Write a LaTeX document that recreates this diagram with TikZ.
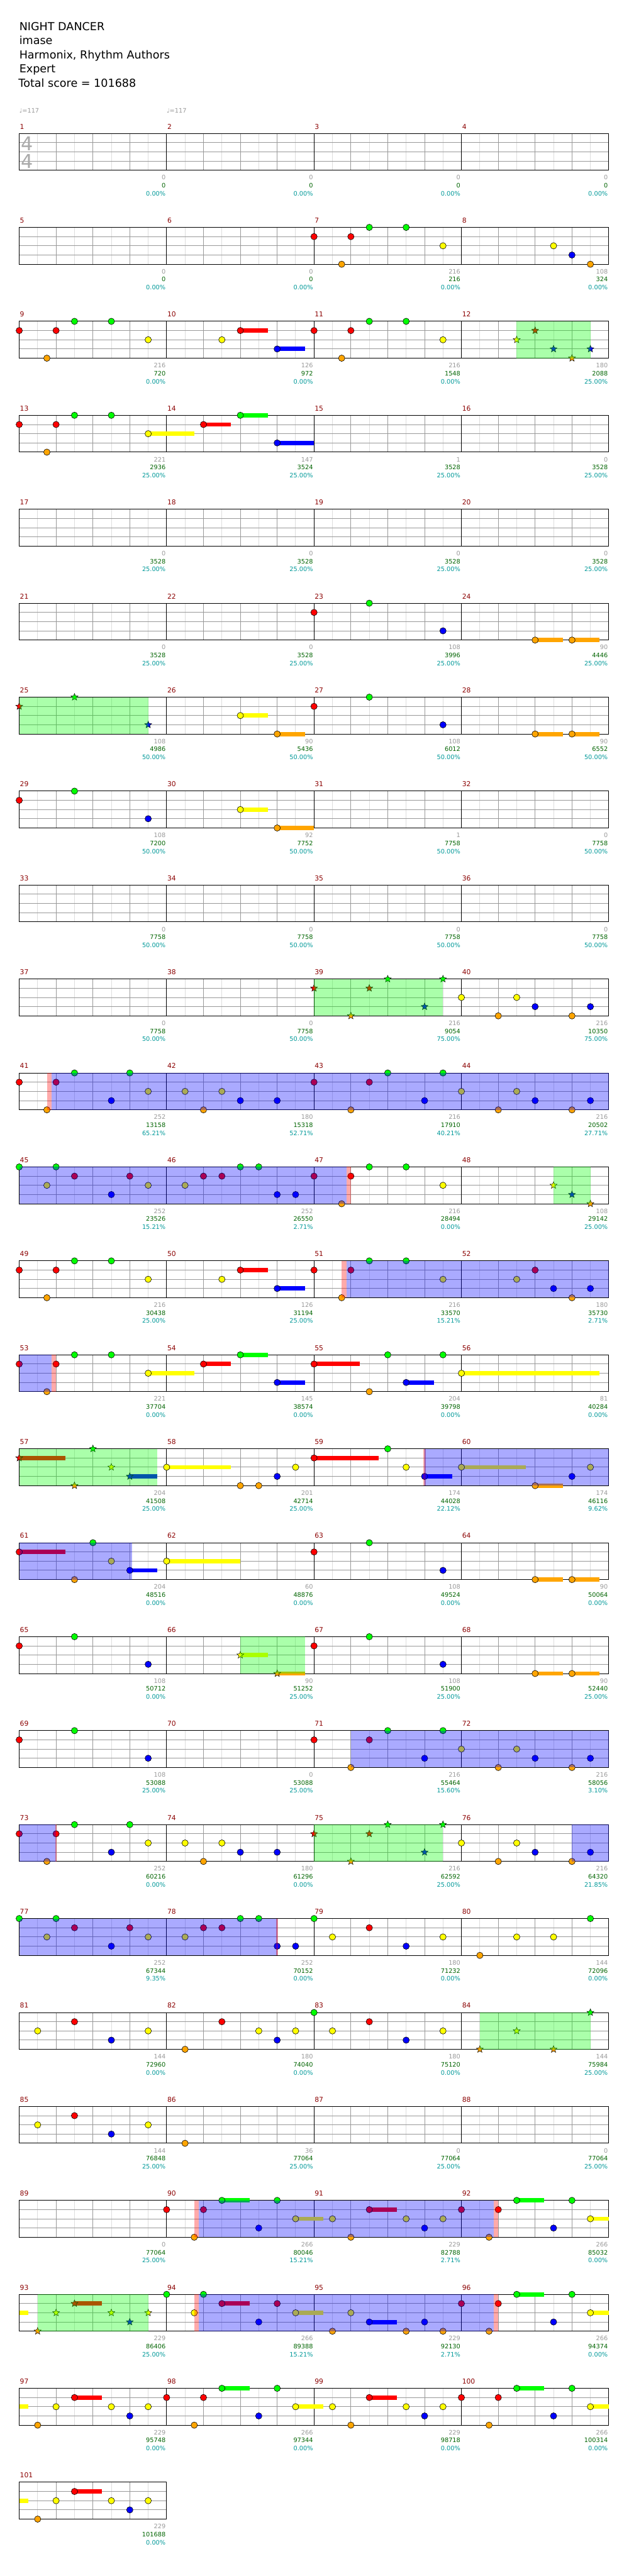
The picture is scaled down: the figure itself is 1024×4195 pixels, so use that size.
\documentclass[tikz,border=0pt]{standalone}
\usepackage{fontspec}
\setmainfont{DejaVu Sans}
\usetikzlibrary{shapes.geometric}
\definecolor{cG}{RGB}{0,255,0}
\definecolor{cR}{RGB}{255,0,0}
\definecolor{cY}{RGB}{255,255,0}
\definecolor{cB}{RGB}{0,0,255}
\definecolor{cO}{RGB}{255,165,0}
\definecolor{cMn}{RGB}{139,0,0}
\definecolor{cGr}{RGB}{153,153,153}
\definecolor{cDg}{RGB}{0,100,0}
\definecolor{cTl}{RGB}{0,153,153}
\definecolor{cHalf}{RGB}{221,221,221}
\definecolor{cBeat}{RGB}{153,153,153}
\definecolor{cTs}{RGB}{170,170,170}
\newcounter{stc}
\newcommand\XY[3]{\pgfmathsetmacro\xx{31.3+mod(#1-1,4)*240+#2*60}\pgfmathsetmacro\yy{217.3+floor((#1-1)/4)*153+#3*15}}
\newcommand\note[4]{\XY{#1}{#2}{#3}\filldraw[fill=#4,draw=black,line width=0.6pt] (\xx,\yy) circle (5.2pt);}
\newcommand\nG[2]{\note{#1}{#2}{0}{cG}}
\newcommand\nR[2]{\note{#1}{#2}{1}{cR}}
\newcommand\nY[2]{\note{#1}{#2}{2}{cY}}
\newcommand\nB[2]{\note{#1}{#2}{3}{cB}}
\newcommand\nO[2]{\note{#1}{#2}{4}{cO}}
\newcommand\starat[4]{\XY{#1}{#2}{#3}\stepcounter{stc}\node[starn,fill=#4] (st\arabic{stc}) at (\xx,\yy) {};}
\newcommand\xG[2]{\starat{#1}{#2}{0}{cG}}
\newcommand\xR[2]{\starat{#1}{#2}{1}{cR}}
\newcommand\xY[2]{\starat{#1}{#2}{2}{cY}}
\newcommand\xB[2]{\starat{#1}{#2}{3}{cB}}
\newcommand\xO[2]{\starat{#1}{#2}{4}{cO}}
\newcommand\sus[5]{\XY{#1}{#2}{#3}\pgfmathsetmacro\ww{#4*60}\fill[#5] (\xx,\yy-3.5) rectangle ++(\ww,7);}
\newcommand\uG[3]{\sus{#1}{#2}{0}{#3}{cG}}
\newcommand\uR[3]{\sus{#1}{#2}{1}{#3}{cR}}
\newcommand\uY[3]{\sus{#1}{#2}{2}{#3}{cY}}
\newcommand\uB[3]{\sus{#1}{#2}{3}{#3}{cB}}
\newcommand\uO[3]{\sus{#1}{#2}{4}{#3}{cO}}
\newcommand\ovr[4]{\XY{#1}{#2}{0}\pgfmathsetmacro\ww{(#3-#2)*60}\fill[#4,opacity=0.3333] (\xx,\yy) rectangle ++(\ww,60);}
\newcommand\ovB[3]{\ovr{#1}{#2}{#3}{cB}}
\newcommand\ovG[3]{\ovr{#1}{#2}{#3}{cG}}
\newcommand\ovP[3]{\ovr{#1}{#2}{#3}{cR}}
\newcommand\grid[2]{%
 \pgfmathsetmacro\yt{217.3+#1*153}%
 \pgfmathtruncatemacro\nh{#2*8-1}%
 \pgfmathsetmacro\xr{31.3+#2*240}%
 \fill[white] (31.3,\yt) rectangle (\xr,\yt+60);
 \foreach \k in {1,3,...,\nh} {\draw[halfl] (31.3+\k*30,\yt) -- ++(0,60);}
 \foreach \k in {2,4,...,\nh} {\draw[beatl] (31.3+\k*30,\yt) -- ++(0,60);}
 \foreach \j in {1,2,3} {\draw[beatl] (31.3,\yt+\j*15) -- (\xr,\yt+\j*15);}
 \foreach \k in {1,...,#2} {\draw[measl] (31.3+\k*240,\yt) -- ++(0,60);}
 \draw[measl] (31.3,\yt) rectangle (\xr,\yt+60);}
\newcommand\lab[4]{%
 \pgfmathsetmacro\xl{31.3+mod(#1-1,4)*240}%
 \pgfmathsetmacro\yt{217.3+floor((#1-1)/4)*153}%
 \node[mnum] (mn#1) at (\xl+1,\yt-7.3) {#1};
 \node[ngray] (ga#1) at (\xl+238.5,\yt+75.5) {#2};
 \node[ngreen] (gb#1) at (\xl+238.5,\yt+88.5) {#3};
 \node[npct] (gc#1) at (\xl+238.5,\yt+101.5) {#4\%};}
\begin{document}
\begin{tikzpicture}[x=1pt,y=-1pt,
 mnum/.style={anchor=base west,inner sep=0pt,text=cMn,font=\fontsize{11}{11}\selectfont},
 ngray/.style={anchor=base east,inner sep=0pt,text=cGr,font=\fontsize{10}{10}\selectfont},
 ngreen/.style={anchor=base east,inner sep=0pt,text=cDg,font=\fontsize{10}{10}\selectfont},
 npct/.style={anchor=base east,inner sep=0pt,text=cTl,font=\fontsize{10}{10}\selectfont},
 head/.style={anchor=base west,inner sep=0pt,text=black,font=\fontsize{18}{18}\selectfont},
 tempo/.style={anchor=base west,inner sep=0pt,text=cGr,font=\fontsize{10}{10}\selectfont},
 tsig/.style={inner sep=0pt,text=cTs,font=\fontsize{31}{31}\selectfont},
 halfl/.style={draw=cHalf,line width=1pt},
 beatl/.style={draw=cBeat,line width=1pt},
 measl/.style={draw=black,line width=1pt},
 starn/.style={star,star points=5,star point ratio=2.3,minimum size=12pt,inner sep=0pt,draw=black,line width=0.5pt}]
\useasboundingbox (0,0) rectangle (1024,4195);
\fill[white] (0,0) rectangle (1024,4195);
% header
\node[head] (h1) at (31.3,49.3) {NIGHT DANCER};
\node[head] (h2) at (31.3,72) {imase};
\node[head] (h3) at (31.3,95.5) {Harmonix, Rhythm Authors};
\node[head] (h4) at (31.3,118.5) {Expert};
\node[head] (h5) at (30,141.5) {Total score = 101688};
\node[tempo] (tp1) at (31.3,184) {♩=117};
\node[tempo] (tp2) at (271.3,184) {♩=117};
% grids
\foreach \r in {0,...,24} {\grid{\r}{4}}
\grid{25}{1}
\node[tsig] (ts1) at (44.3,233.5) {4};
\node[tsig] (ts2) at (44.3,263) {4};
% labels
\lab{1}{0}{0}{0.00}\lab{2}{0}{0}{0.00}\lab{3}{0}{0}{0.00}\lab{4}{0}{0}{0.00}
\lab{5}{0}{0}{0.00}\lab{6}{0}{0}{0.00}\lab{7}{216}{216}{0.00}\lab{8}{108}{324}{0.00}
\lab{9}{216}{720}{0.00}\lab{10}{126}{972}{0.00}\lab{11}{216}{1548}{0.00}\lab{12}{180}{2088}{25.00}
\lab{13}{221}{2936}{25.00}\lab{14}{147}{3524}{25.00}\lab{15}{1}{3528}{25.00}\lab{16}{0}{3528}{25.00}
\lab{17}{0}{3528}{25.00}\lab{18}{0}{3528}{25.00}\lab{19}{0}{3528}{25.00}\lab{20}{0}{3528}{25.00}
\lab{21}{0}{3528}{25.00}\lab{22}{0}{3528}{25.00}\lab{23}{108}{3996}{25.00}\lab{24}{90}{4446}{25.00}
\lab{25}{108}{4986}{50.00}\lab{26}{90}{5436}{50.00}\lab{27}{108}{6012}{50.00}\lab{28}{90}{6552}{50.00}
\lab{29}{108}{7200}{50.00}\lab{30}{92}{7752}{50.00}\lab{31}{1}{7758}{50.00}\lab{32}{0}{7758}{50.00}
\lab{33}{0}{7758}{50.00}\lab{34}{0}{7758}{50.00}\lab{35}{0}{7758}{50.00}\lab{36}{0}{7758}{50.00}
\lab{37}{0}{7758}{50.00}\lab{38}{0}{7758}{50.00}\lab{39}{216}{9054}{75.00}\lab{40}{216}{10350}{75.00}
\lab{41}{252}{13158}{65.21}\lab{42}{180}{15318}{52.71}\lab{43}{216}{17910}{40.21}\lab{44}{216}{20502}{27.71}
\lab{45}{252}{23526}{15.21}\lab{46}{252}{26550}{2.71}\lab{47}{216}{28494}{0.00}\lab{48}{108}{29142}{25.00}
\lab{49}{216}{30438}{25.00}\lab{50}{126}{31194}{25.00}\lab{51}{216}{33570}{15.21}\lab{52}{180}{35730}{2.71}
\lab{53}{221}{37704}{0.00}\lab{54}{145}{38574}{0.00}\lab{55}{204}{39798}{0.00}\lab{56}{81}{40284}{0.00}
\lab{57}{204}{41508}{25.00}\lab{58}{201}{42714}{25.00}\lab{59}{174}{44028}{22.12}\lab{60}{174}{46116}{9.62}
\lab{61}{204}{48516}{0.00}\lab{62}{60}{48876}{0.00}\lab{63}{108}{49524}{0.00}\lab{64}{90}{50064}{0.00}
\lab{65}{108}{50712}{0.00}\lab{66}{90}{51252}{25.00}\lab{67}{108}{51900}{25.00}\lab{68}{90}{52440}{25.00}
\lab{69}{108}{53088}{25.00}\lab{70}{0}{53088}{25.00}\lab{71}{216}{55464}{15.60}\lab{72}{216}{58056}{3.10}
\lab{73}{252}{60216}{0.00}\lab{74}{180}{61296}{0.00}\lab{75}{216}{62592}{25.00}\lab{76}{216}{64320}{21.85}
\lab{77}{252}{67344}{9.35}\lab{78}{252}{70152}{0.00}\lab{79}{180}{71232}{0.00}\lab{80}{144}{72096}{0.00}
\lab{81}{144}{72960}{0.00}\lab{82}{180}{74040}{0.00}\lab{83}{180}{75120}{0.00}\lab{84}{144}{75984}{25.00}
\lab{85}{144}{76848}{25.00}\lab{86}{36}{77064}{25.00}\lab{87}{0}{77064}{25.00}\lab{88}{0}{77064}{25.00}
\lab{89}{0}{77064}{25.00}\lab{90}{266}{80046}{15.21}\lab{91}{229}{82788}{2.71}\lab{92}{266}{85032}{0.00}
\lab{93}{229}{86406}{25.00}\lab{94}{266}{89388}{15.21}\lab{95}{229}{92130}{2.71}\lab{96}{266}{94374}{0.00}
\lab{97}{229}{95748}{0.00}\lab{98}{266}{97344}{0.00}\lab{99}{229}{98718}{0.00}\lab{100}{266}{100314}{0.00}
\lab{101}{229}{101688}{0.00}
% notes
\nR{7}{0}\nO{7}{0.75}\nR{7}{1}\nG{7}{1.5}\nG{7}{2.5}\nY{7}{3.5}
\nY{8}{2.5}\nB{8}{3}\nO{8}{3.5}
\nR{9}{0}\nO{9}{0.75}\nR{9}{1}\nG{9}{1.5}\nG{9}{2.5}\nY{9}{3.5}
\uR{10}{2}{0.75}\uB{10}{3}{0.75}\nY{10}{1.5}\nR{10}{2}\nB{10}{3}
\nR{11}{0}\nO{11}{0.75}\nR{11}{1}\nG{11}{1.5}\nG{11}{2.5}\nY{11}{3.5}
\xY{12}{1.5}\xR{12}{2}\xB{12}{2.5}\xO{12}{3}\xB{12}{3.5}
\uY{13}{3.5}{1.25}\nR{13}{0}\nO{13}{0.75}\nR{13}{1}\nG{13}{1.5}\nG{13}{2.5}\nY{13}{3.5}
\uR{14}{1}{0.75}\uG{14}{2}{0.75}\uB{14}{3}{1}\nR{14}{1}\nG{14}{2}\nB{14}{3}
\nR{23}{0}\nG{23}{1.5}\nB{23}{3.5}
\uO{24}{2}{0.75}\uO{24}{3}{0.75}\nO{24}{2}\nO{24}{3}
\xR{25}{0}\xG{25}{1.5}\xB{25}{3.5}
\uY{26}{2}{0.75}\uO{26}{3}{0.75}\nY{26}{2}\nO{26}{3}
\nR{27}{0}\nG{27}{1.5}\nB{27}{3.5}
\uO{28}{2}{0.75}\uO{28}{3}{0.75}\nO{28}{2}\nO{28}{3}
\nR{29}{0}\nG{29}{1.5}\nB{29}{3.5}
\uY{30}{2}{0.75}\uO{30}{3}{1}\nY{30}{2}\nO{30}{3}
\xR{39}{0}\xO{39}{1}\xR{39}{1.5}\xG{39}{2}\xB{39}{3}\xG{39}{3.5}
\nY{40}{0}\nO{40}{1}\nY{40}{1.5}\nB{40}{2}\nO{40}{3}\nB{40}{3.5}
\nR{41}{0}\nO{41}{0.75}\nR{41}{1}\nG{41}{1.5}\nB{41}{2.5}\nG{41}{3}\nY{41}{3.5}
\nY{42}{0.5}\nO{42}{1}\nY{42}{1.5}\nB{42}{2}\nB{42}{3}
\nR{43}{0}\nO{43}{1}\nR{43}{1.5}\nG{43}{2}\nB{43}{3}\nG{43}{3.5}
\nY{44}{0}\nO{44}{1}\nY{44}{1.5}\nB{44}{2}\nO{44}{3}\nB{44}{3.5}
\nG{45}{0}\nY{45}{0.75}\nG{45}{1}\nR{45}{1.5}\nB{45}{2.5}\nR{45}{3}\nY{45}{3.5}
\nY{46}{0.5}\nR{46}{1}\nR{46}{1.5}\nG{46}{2}\nG{46}{2.5}\nB{46}{3}\nB{46}{3.5}
\nR{47}{0}\nO{47}{0.75}\nR{47}{1}\nG{47}{1.5}\nG{47}{2.5}\nY{47}{3.5}
\xY{48}{2.5}\xB{48}{3}\xO{48}{3.5}
\nR{49}{0}\nO{49}{0.75}\nR{49}{1}\nG{49}{1.5}\nG{49}{2.5}\nY{49}{3.5}
\uR{50}{2}{0.75}\uB{50}{3}{0.75}\nY{50}{1.5}\nR{50}{2}\nB{50}{3}
\nR{51}{0}\nO{51}{0.75}\nR{51}{1}\nG{51}{1.5}\nG{51}{2.5}\nY{51}{3.5}
\nY{52}{1.5}\nR{52}{2}\nB{52}{2.5}\nO{52}{3}\nB{52}{3.5}
\uY{53}{3.5}{1.25}\nR{53}{0}\nO{53}{0.75}\nR{53}{1}\nG{53}{1.5}\nG{53}{2.5}\nY{53}{3.5}
\uR{54}{1}{0.75}\uG{54}{2}{0.75}\uB{54}{3}{0.75}\nR{54}{1}\nG{54}{2}\nB{54}{3}
\uR{55}{0}{1.25}\uB{55}{2.5}{0.75}\nR{55}{0}\nO{55}{1.5}\nG{55}{2}\nB{55}{2.5}\nG{55}{3.5}
\uY{56}{0}{3.75}\nY{56}{0}
\uR{57}{0}{1.25}\uB{57}{3}{0.75}\xR{57}{0}\xO{57}{1.5}\xG{57}{2}\xY{57}{2.5}\xB{57}{3}
\uY{58}{0}{1.75}\nY{58}{0}\nO{58}{2}\nO{58}{2.5}\nB{58}{3}\nY{58}{3.5}
\uR{59}{0}{1.75}\uB{59}{3}{0.75}\nR{59}{0}\nG{59}{2}\nY{59}{2.5}\nB{59}{3}
\uY{60}{0}{1.75}\uO{60}{2}{0.75}\nY{60}{0}\nO{60}{2}\nB{60}{3}\nY{60}{3.5}
\uR{61}{0}{1.25}\uB{61}{3}{0.75}\nR{61}{0}\nO{61}{1.5}\nG{61}{2}\nY{61}{2.5}\nB{61}{3}
\uY{62}{0}{2}\nY{62}{0}
\nR{63}{0}\nG{63}{1.5}\nB{63}{3.5}
\uO{64}{2}{0.75}\uO{64}{3}{0.75}\nO{64}{2}\nO{64}{3}
\nR{65}{0}\nG{65}{1.5}\nB{65}{3.5}
\uY{66}{2}{0.75}\uO{66}{3}{0.75}\xY{66}{2}\xO{66}{3}
\nR{67}{0}\nG{67}{1.5}\nB{67}{3.5}
\uO{68}{2}{0.75}\uO{68}{3}{0.75}\nO{68}{2}\nO{68}{3}
\nR{69}{0}\nG{69}{1.5}\nB{69}{3.5}
\nR{71}{0}\nO{71}{1}\nR{71}{1.5}\nG{71}{2}\nB{71}{3}\nG{71}{3.5}
\nY{72}{0}\nO{72}{1}\nY{72}{1.5}\nB{72}{2}\nO{72}{3}\nB{72}{3.5}
\nR{73}{0}\nO{73}{0.75}\nR{73}{1}\nG{73}{1.5}\nB{73}{2.5}\nG{73}{3}\nY{73}{3.5}
\nY{74}{0.5}\nO{74}{1}\nY{74}{1.5}\nB{74}{2}\nB{74}{3}
\xR{75}{0}\xO{75}{1}\xR{75}{1.5}\xG{75}{2}\xB{75}{3}\xG{75}{3.5}
\nY{76}{0}\nO{76}{1}\nY{76}{1.5}\nB{76}{2}\nO{76}{3}\nB{76}{3.5}
\nG{77}{0}\nY{77}{0.75}\nG{77}{1}\nR{77}{1.5}\nB{77}{2.5}\nR{77}{3}\nY{77}{3.5}
\nY{78}{0.5}\nR{78}{1}\nR{78}{1.5}\nG{78}{2}\nG{78}{2.5}\nB{78}{3}\nB{78}{3.5}
\nG{79}{0}\nY{79}{0.5}\nR{79}{1.5}\nB{79}{2.5}\nY{79}{3.5}
\nO{80}{0.5}\nY{80}{1.5}\nY{80}{2.5}\nG{80}{3.5}
\nY{81}{0.5}\nR{81}{1.5}\nB{81}{2.5}\nY{81}{3.5}
\nO{82}{0.5}\nR{82}{1.5}\nY{82}{2.5}\nB{82}{3}\nY{82}{3.5}
\nG{83}{0}\nY{83}{0.5}\nR{83}{1.5}\nB{83}{2.5}\nY{83}{3.5}
\xO{84}{0.5}\xY{84}{1.5}\xO{84}{2.5}\xG{84}{3.5}
\nY{85}{0.5}\nR{85}{1.5}\nB{85}{2.5}\nY{85}{3.5}
\nO{86}{0.5}
\uG{90}{1.5}{0.75}\uY{90}{3.5}{0.75}\nR{90}{0}\nO{90}{0.75}\nR{90}{1}\nG{90}{1.5}\nB{90}{2.5}\nG{90}{3}\nY{90}{3.5}
\uR{91}{1.5}{0.75}\nY{91}{0.5}\nO{91}{1}\nR{91}{1.5}\nY{91}{2.5}\nB{91}{3}\nY{91}{3.5}
\uG{92}{1.5}{0.75}\uY{92}{3.5}{0.5}\nR{92}{0}\nO{92}{0.75}\nR{92}{1}\nG{92}{1.5}\nB{92}{2.5}\nG{92}{3}\nY{92}{3.5}
\uY{93}{0}{0.25}\uR{93}{1.5}{0.75}\xO{93}{0.5}\xY{93}{1}\xR{93}{1.5}\xY{93}{2.5}\xB{93}{3}\xY{93}{3.5}
\uR{94}{1.5}{0.75}\uY{94}{3.5}{0.75}\nG{94}{0}\nY{94}{0.75}\nG{94}{1}\nR{94}{1.5}\nB{94}{2.5}\nR{94}{3}\nY{94}{3.5}
\uB{95}{1.5}{0.75}\nO{95}{0.5}\nY{95}{1}\nB{95}{1.5}\nO{95}{2.5}\nB{95}{3}\nO{95}{3.5}
\uG{96}{1.5}{0.75}\uY{96}{3.5}{0.5}\nR{96}{0}\nO{96}{0.75}\nR{96}{1}\nG{96}{1.5}\nB{96}{2.5}\nG{96}{3}\nY{96}{3.5}
\uY{97}{0}{0.25}\uR{97}{1.5}{0.75}\nO{97}{0.5}\nY{97}{1}\nR{97}{1.5}\nY{97}{2.5}\nB{97}{3}\nY{97}{3.5}
\uG{98}{1.5}{0.75}\uY{98}{3.5}{0.75}\nR{98}{0}\nO{98}{0.75}\nR{98}{1}\nG{98}{1.5}\nB{98}{2.5}\nG{98}{3}\nY{98}{3.5}
\uR{99}{1.5}{0.75}\nY{99}{0.5}\nO{99}{1}\nR{99}{1.5}\nY{99}{2.5}\nB{99}{3}\nY{99}{3.5}
\uG{100}{1.5}{0.75}\uY{100}{3.5}{0.5}\nR{100}{0}\nO{100}{0.75}\nR{100}{1}\nG{100}{1.5}\nB{100}{2.5}\nG{100}{3}\nY{100}{3.5}
\uY{101}{0}{0.25}\uR{101}{1.5}{0.75}\nO{101}{0.5}\nY{101}{1}\nR{101}{1.5}\nY{101}{2.5}\nB{101}{3}\nY{101}{3.5}
% overlays
\ovG{12}{1.5}{3.5}
\ovG{25}{0}{3.5}
\ovG{39}{0}{3.5}
\ovP{41}{0.75}{0.875}\ovB{41}{0.875}{16}
\ovB{45}{0}{8.875}\ovP{47}{0.875}{1}
\ovG{48}{2.5}{3.5}
\ovP{51}{0.75}{0.875}\ovB{51}{0.875}{8}
\ovB{53}{0}{0.875}\ovP{53}{0.875}{1}
\ovG{57}{0}{3.75}
\ovP{59}{2.97}{3.03}\ovB{59}{3}{8}
\ovB{61}{0}{3.06}
\ovG{66}{2}{3.75}
\ovB{71}{1}{8}
\ovB{73}{0}{1}\ovP{73}{0.98}{1.02}
\ovG{75}{0}{3.5}
\ovB{76}{3}{4}
\ovB{77}{0}{7}\ovP{77}{6.98}{7.02}
\ovG{84}{0.5}{3.5}
\ovP{90}{0.75}{0.875}\ovB{90}{0.875}{8.875}\ovP{92}{0.875}{1}
\ovG{93}{0.5}{3.5}
\ovP{94}{0.75}{0.875}\ovB{94}{0.875}{8.875}\ovP{96}{0.875}{1}
\end{tikzpicture}
\end{document}
